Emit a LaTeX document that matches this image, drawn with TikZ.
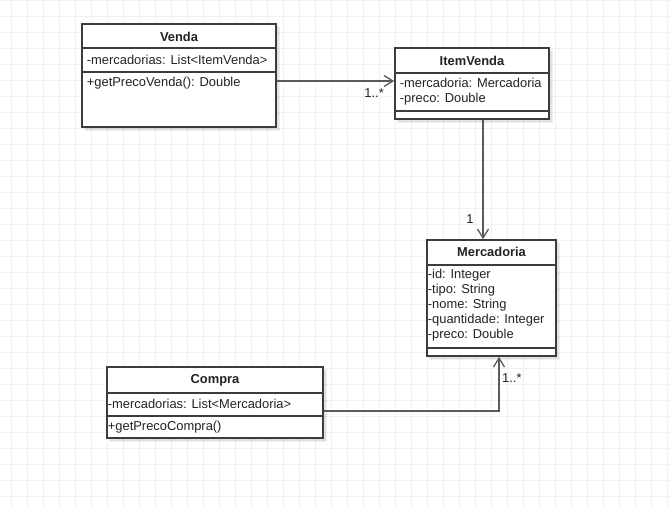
\documentclass[tikz,border=0pt]{standalone}
\usepackage{fontspec}
\setmainfont{Liberation Sans}
\usetikzlibrary{arrows.meta}

\definecolor{gridgray}{RGB}{240,240,240}
\definecolor{strokegray}{RGB}{60,60,60}
\definecolor{wiregray}{RGB}{90,90,90}
\definecolor{txt}{RGB}{35,35,35}

\tikzset{
  umlfont/.style={font=\fontsize{12.9}{15}\selectfont},
  classbox/.style={draw=strokegray, line width=1.6pt, fill=white, rectangle, inner sep=0pt},
  classshadow/.style={fill=black, fill opacity=0.06, draw=none},
  divider/.style={draw=strokegray, line width=1.6pt},
  classtitle/.style={umlfont, text=txt, inner sep=0pt, font=\fontsize{12.9}{15}\selectfont\bfseries},
  member/.style={umlfont, text=txt, inner sep=0pt, anchor=west, align=left},
  assoc/.style={draw=wiregray, line width=1.6pt, -{Straight Barb[length=9pt,width=11pt,line width=1.3pt]}},
  mult/.style={umlfont, text=txt, inner sep=0pt},
  gridline/.style={draw=gridgray, line width=0.8pt}
}

\begin{document}
\begin{tikzpicture}[x=1pt, y=-1pt]
  % page and background grid
  \useasboundingbox (0,0) rectangle (670,507);
  \fill[white] (0,0) rectangle (670,507);
  \foreach \gx in {11.7,27.7,...,670} { \draw[gridline] (\gx,0) -- (\gx,507); }
  \foreach \gy in {0.3,16.3,...,507} { \draw[gridline] (0,\gy) -- (670,\gy); }

  % soft shadows under the class boxes
  \foreach \a/\b/\c/\d in {82/24/276/127, 395/48/549/119, 427/240/556/356, 107/367/323/438} {
    \fill[classshadow] (\a+3,\b+3) rectangle (\c+4,\d+4);
    \fill[classshadow] (\a+2,\b+2) rectangle (\c+2.5,\d+2.5);
  }

  % ---- Venda ----
  \node[classbox, minimum width=194pt, minimum height=103pt] (venda) at (179,75.5) {};
  \draw[divider] (venda.west |- 0,48) -- (venda.east |- 0,48);
  \draw[divider] (venda.west |- 0,72) -- (venda.east |- 0,72);
  \node[classtitle] (vendaT) at (venda.center |- 0,36.7) {Venda};
  \node[member] (vendaA) at ([xshift=5.5pt]venda.west |- 0,59.6) {-mercadorias: List<ItemVenda>};
  \node[member] (vendaM) at ([xshift=5.5pt]venda.west |- 0,83.4) {+getPrecoVenda(): Double};

  % ---- ItemVenda ----
  \node[classbox, minimum width=154pt, minimum height=71pt] (item) at (472,83.5) {};
  \draw[divider] (item.west |- 0,73) -- (item.east |- 0,73);
  \draw[divider] (item.west |- 0,111) -- (item.east |- 0,111);
  \node[classtitle] (itemT) at (item.center |- 0,60.7) {ItemVenda};
  \node[member] (itemA) at ([xshift=5.5pt]item.west |- 0,91.3) {-mercadoria: Mercadoria\\-preco: Double};

  % ---- Mercadoria ----
  \node[classbox, minimum width=129pt, minimum height=116pt] (merc) at (491.5,298) {};
  \draw[divider] (merc.west |- 0,265) -- (merc.east |- 0,265);
  \draw[divider] (merc.west |- 0,348) -- (merc.east |- 0,348);
  \node[classtitle] (mercT) at (merc.center |- 0,252.3) {Mercadoria};
  \node[member] (mercA) at ([xshift=1.5pt]merc.west |- 0,305.5)
    {-id: Integer\\-tipo: String\\-nome: String\\-quantidade: Integer\\-preco: Double};

  % ---- Compra ----
  \node[classbox, minimum width=216pt, minimum height=71pt] (compra) at (215,402.5) {};
  \draw[divider] (compra.west |- 0,393) -- (compra.east |- 0,393);
  \draw[divider] (compra.west |- 0,416) -- (compra.east |- 0,416);
  \node[classtitle] (compraT) at (compra.center |- 0,380.7) {Compra};
  \node[member] (compraA) at ([xshift=1.5pt]compra.west |- 0,403.6) {-mercadorias: List<Mercadoria>};
  \node[member] (compraM) at ([xshift=1.5pt]compra.west |- 0,427) {+getPrecoCompra()};

  % ---- associations ----
  \draw[assoc] ([yshift=2.5pt]item.west -| venda.east) -- ([yshift=2.5pt]item.west);
  \draw[assoc] ([xshift=11pt]item.south) -- ([xshift=11pt]item.south |- merc.north);
  \draw[assoc] ([yshift=-8.5pt]compra.east) -| ([xshift=7.5pt]merc.south);

  % ---- multiplicities ----
  \node[mult, anchor=east] (m1) at (384,93) {1..*};
  \node[mult] (m2) at (470,219.5) {1};
  \node[mult, anchor=west] (m3) at (502,378) {1..*};
\end{tikzpicture}
\end{document}
